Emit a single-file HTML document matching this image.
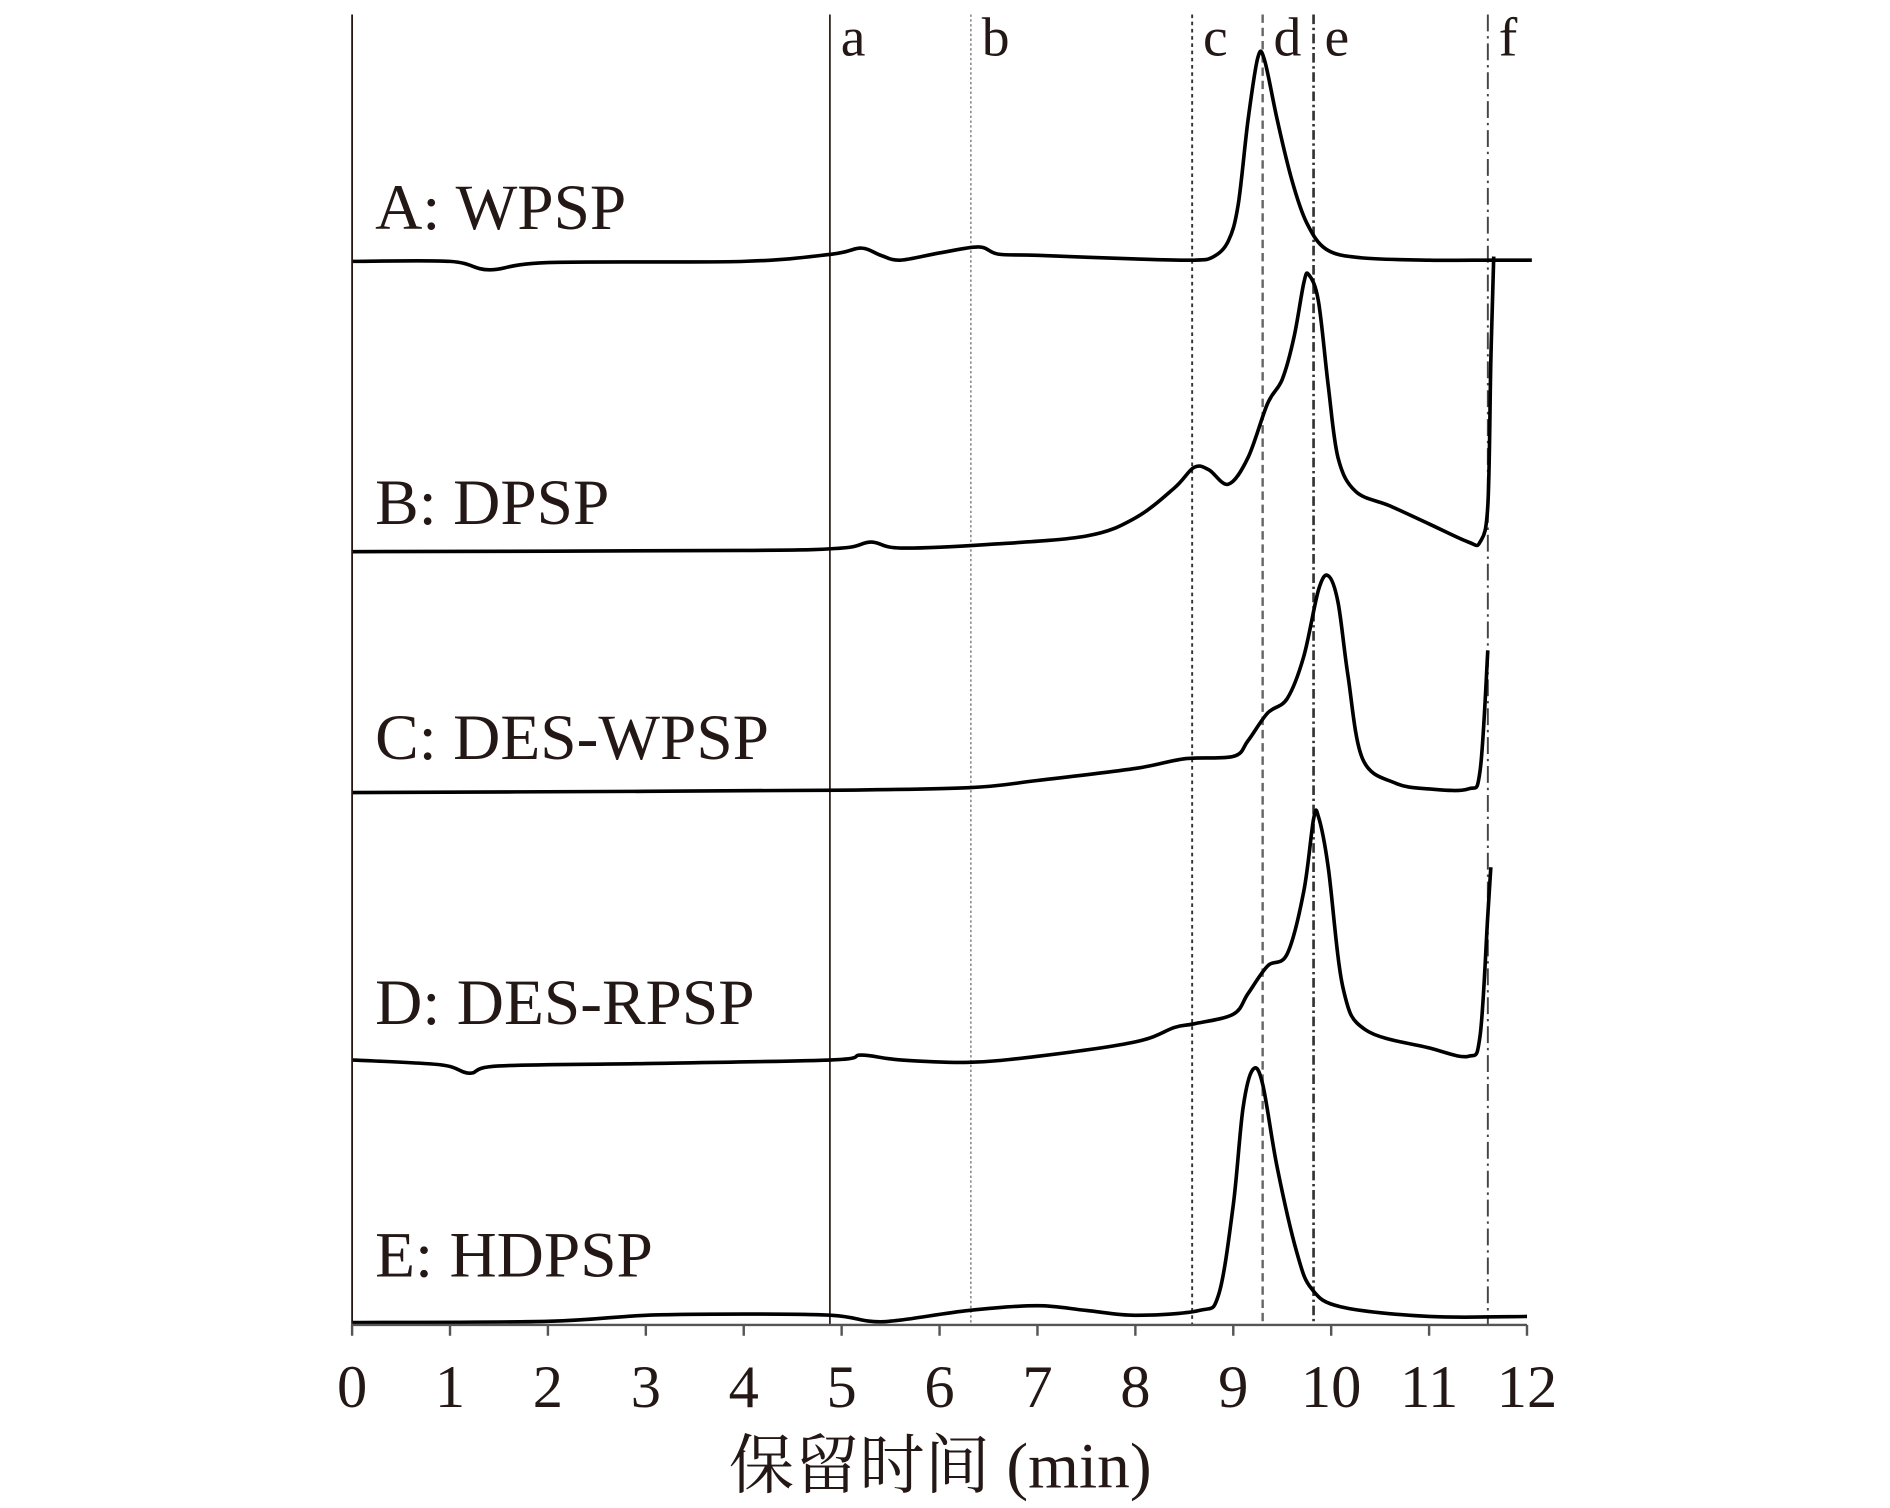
<!DOCTYPE html>
<html><head><meta charset="utf-8">
<style>
html,body{margin:0;padding:0;background:#fff;}
svg{display:block;}
text{font-family:"Liberation Serif","Noto Serif CJK SC",serif;fill:#231815;}
</style></head>
<body>
<svg id="chart" width="1890" height="1508" viewBox="0 0 1562 1252" preserveAspectRatio="none" xmlns="http://www.w3.org/2000/svg">
<g id="refs"></g>
<g id="series"></g>
<g id="axis"></g>
<text x="777" y="1235" font-size="54" text-anchor="middle">保留时间 (min)</text>
</svg>
<script>
const xTicks = [0,1,2,3,4,5,6,7,8,9,10,11,12];
const refLabels = ['a','b','c','d','e','f'];
const refTimes = [4.88,6.32,8.58,9.3,9.82,11.6];
const seriesNames = ['A: WPSP','B: DPSP','C: DES-WPSP','D: DES-RPSP','E: HDPSP'];
// times and signal (intensity above each trace's baseline)
const tA = [0,1,1.4,2,4,4.9,5.2,5.4,5.6,6,6.4,6.6,7,8,8.6,8.8,8.95,9.05,9.15,9.25,9.32,9.45,9.6,9.75,9.95,10.3,11,11.62,12];
const vA = [0,0,-7,-1,0,6,11,5,1,7,12,6,5,2,1,4,17,47,117,169,167,117,67,32,10,3,1,1,1];
const tB = [0,4,5,5.3,5.6,6.5,7.5,8,8.4,8.6,8.75,8.95,9.15,9.35,9.5,9.62,9.72,9.77,9.87,9.97,10.07,10.25,10.6,11,11.4,11.52,11.6,11.63,11.66];
const vB = [0,1,3,8,3,6,13,28,53,70,68,56,78,123,143,178,223,230,208,138,78,50,38,23,8,8,38,158,245];
const tC = [0,3,5,6.3,7,8,8.5,9,9.15,9.35,9.55,9.72,9.87,9.97,10.07,10.17,10.32,10.65,11,11.4,11.52,11.6];
const vC = [0,1,2,4,10,20,28,30,43,66,78,113,168,180,158,98,28,8,3,3,18,118];
const tD = [0,0.9,1.2,1.5,3,4.9,5.2,5.6,6.3,7,8,8.4,8.6,9.0,9.15,9.35,9.55,9.72,9.82,9.87,9.97,10.12,10.35,11,11.4,11.52,11.6,11.63];
const vD = [2,-2,-9,-3,-1,2,6,2,0,5,17,29,32,40,57,80,90,142,202,204,162,62,27,12,5,22,122,162];
const tE = [0,2,3,4,4.9,5.3,5.6,6.3,7,7.5,8,8.65,8.85,9.0,9.1,9.2,9.3,9.45,9.65,9.8,10.1,11,12];
const vE = [-1,0,5,6,5,0,1,9,13,9,5,9,22,97,177,209,197,127,57,27,12,4,4];

const NS='http://www.w3.org/2000/svg';
const X0=291, X1=1262, AXY=1100, TOP=12;
const baselines=[217,458,658,882,1097];
const labelY=[190,435,630,850,1060];
function xs(t){return X0+(X1-X0)*t/12;}
function mk(tag,attrs,parent){const e=document.createElementNS(NS,tag);for(const k in attrs)e.setAttribute(k,attrs[k]);parent.appendChild(e);return e;}
const refs=document.getElementById('refs'), ser=document.getElementById('series'), ax=document.getElementById('axis');
const dashes=['none','2,2','3,3','7,4','8,3,2,3','14,4,2,4'];
const widths=[1.4,1,1.6,2,2.2,1.6];
const colors=['#231815','#666','#333','#666','#333','#444'];
refTimes.forEach((t,i)=>{
  const l=mk('line',{x1:xs(t),x2:xs(t),y1:TOP,y2:AXY,stroke:colors[i],'stroke-width':widths[i],'stroke-dasharray':dashes[i]},refs);
  
  
  const tx=mk('text',{x:xs(t)+9,y:46,'font-size':46},refs);
  tx.textContent=refLabels[i];
  
  
});
function smooth(pts){
  let d='M'+pts[0][0]+','+pts[0][1];
  for(let i=0;i<pts.length-1;i++){
    const p0=pts[Math.max(0,i-1)],p1=pts[i],p2=pts[i+1],p3=pts[Math.min(pts.length-1,i+2)];
    const c1=[p1[0]+(p2[0]-p0[0])/6,p1[1]+(p2[1]-p0[1])/6];
    const c2=[p2[0]-(p3[0]-p1[0])/6,p2[1]-(p3[1]-p1[1])/6];
    d+=' C'+c1[0].toFixed(1)+','+c1[1].toFixed(1)+' '+c2[0].toFixed(1)+','+c2[1].toFixed(1)+' '+p2[0].toFixed(1)+','+p2[1].toFixed(1);
  }
  return d;
}
const allT=[tA,tB,tC,tD,tE], allV=[vA,vB,vC,vD,vE];
allT.forEach((ts,k)=>{
  const pts=ts.map((t,i)=>[xs(t),baselines[k]-allV[k][i]]);
  const p=mk('path',{d:smooth(pts),fill:'none',stroke:'#000','stroke-width':3,'stroke-linejoin':'round'},ser);
  
  
  const tx=mk('text',{x:310,y:labelY[k],'font-size':54},ser);
  tx.textContent=seriesNames[k];
  
  
});
const ext=mk('line',{x1:xs(12),x2:1266,y1:baselines[0]-1,y2:baselines[0]-1,stroke:'#000','stroke-width':3},ser);


const yl=mk('line',{x1:X0,x2:X0,y1:TOP,y2:AXY,stroke:'#231815','stroke-width':1.5},ax);


const xl=mk('line',{x1:X0,x2:X1,y1:AXY,y2:AXY,stroke:'#555','stroke-width':2},ax);


xTicks.forEach(t=>{
  const tk=mk('line',{x1:xs(t),x2:xs(t),y1:AXY,y2:AXY+9,stroke:'#555','stroke-width':2},ax);
  
  
  const tx=mk('text',{x:xs(t),y:1168,'font-size':50,'text-anchor':'middle'},ax);
  tx.textContent=String(t);
  
  
});
</script>
</body></html>
